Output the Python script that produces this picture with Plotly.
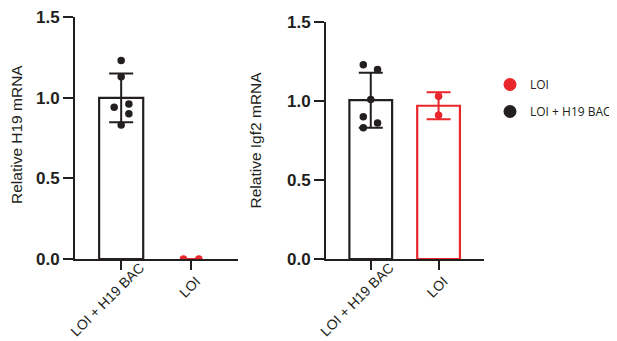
import numpy as np
import plotly.graph_objects as go

# ---------------- data ----------------
categories = ["LOI + H19 BAC", "LOI"]
h19_bac = [1.23, 1.13, 0.94, 0.96, 0.90, 0.83]
h19_loi = [0.0, 0.0]
igf2_bac = [1.23, 1.20, 1.01, 0.90, 0.83, 0.86]
igf2_loi = [1.03, 0.91]
ytick_vals = [0.0, 0.5, 1.0, 1.5]
ytick_text = ["0.0", "0.5", "1.0", "1.5"]
y_titles = ["Relative H19 mRNA", "Relative Igf2 mRNA"]
legend_names = ["LOI", "LOI + H19 BAC"]

# horizontal scatter of the dots (category units)
jit_h19_bac = [0, 0, -0.10, 0.11, 0.11, 0]
jit_h19_loi = [-0.11, 0.11]
jit_igf2_bac = [-0.11, 0.10, 0, -0.11, -0.11, 0.10]
jit_igf2_loi = [0, 0]

BLACK = "#231f20"
RED = "#e8262b"
BAR_W = 0.63

fig = go.Figure()


def add_group(vals, jit, xi, color, xa, ya, show_bar=True, cap=12):
    v = np.array(vals, dtype=float)
    mean = float(v.mean())
    sd = float(v.std(ddof=1)) if len(v) > 1 else 0.0
    fig.add_trace(go.Bar(
        x=[xi], y=[mean], width=BAR_W, xaxis=xa, yaxis=ya,
        marker=dict(color="white", line=dict(color=color, width=2.2 if show_bar else 0)),
        error_y=dict(type="data", array=[sd], visible=True, color=color, thickness=2, width=cap),
        showlegend=False, hoverinfo="skip"))
    fig.add_trace(go.Scatter(
        x=[xi + j for j in jit], y=list(v), mode="markers", xaxis=xa, yaxis=ya,
        marker=dict(color=color, size=7.5, line=dict(width=0)),
        showlegend=False, hoverinfo="skip"))


add_group(h19_bac, jit_h19_bac, 0, BLACK, "x", "y")
add_group(h19_loi, jit_h19_loi, 1, RED, "x", "y", show_bar=False, cap=8)
add_group(igf2_bac, jit_igf2_bac, 0, BLACK, "x2", "y2")
add_group(igf2_loi, jit_igf2_loi, 1, RED, "x2", "y2")

# legend-only dummy traces
for name, col, grp in zip(legend_names, [RED, BLACK], ["a", "b"]):
    fig.add_trace(go.Scatter(x=[None], y=[None], mode="markers", name=name,
                             legendgroup=grp, xaxis="x", yaxis="y",
                             marker=dict(color=col, size=13)))

W, H = 617, 341
tickfont_y = dict(family="Liberation Sans", size=17, color=BLACK, weight="bold")
tickfont_x = dict(family="Liberation Sans", size=14, color=BLACK)

# short label padded so its rotated position matches the original layout
xtick_text = [categories[0], categories[1] + "\u00a0" * 5]

xcommon = dict(range=[-0.66, 1.67], tickvals=[0, 1], ticktext=xtick_text, tickangle=-45,
               showline=True, linewidth=2, linecolor=BLACK, ticks="outside", ticklen=9,
               tickwidth=2, tickcolor=BLACK, showgrid=False, zeroline=False,
               tickfont=tickfont_x, fixedrange=True, automargin=False,
               ticklabelshift=19, ticklabelstandoff=-16, ticklabeloverflow="allow")
ycommon = dict(range=[0, 1.5], tickvals=ytick_vals, ticktext=ytick_text,
               showline=True, linewidth=2, linecolor=BLACK, ticks="outside", ticklen=10,
               tickwidth=2, tickcolor=BLACK, showgrid=False, zeroline=False,
               tickfont=tickfont_y, fixedrange=True, automargin=False,
               ticklabeloverflow="allow")

fig.update_layout(
    width=W, height=H, autosize=False,
    margin=dict(l=0, r=0, t=0, b=0, autoexpand=False),
    paper_bgcolor="white", plot_bgcolor="white",
    barmode="overlay",
    xaxis=dict(domain=[67 / W, 230 / W], anchor="y", **xcommon),
    yaxis=dict(domain=[90 / H, 332 / H], anchor="x", **ycommon),
    xaxis2=dict(domain=[318 / W, 476 / W], anchor="y2", **xcommon),
    yaxis2=dict(domain=[90 / H, 327 / H], anchor="x2", **ycommon),
    legend=dict(x=482 / W, y=1 - 62 / H, xanchor="left", yanchor="top",
                font=dict(family="Open Sans", size=12, color=BLACK),
                tracegroupgap=8, bgcolor="rgba(0,0,0,0)"),
    annotations=[
        dict(text=y_titles[0], x=8 / W, y=1 - 127 / H, xref="paper", yref="paper",
             textangle=-90, showarrow=False, xanchor="center", yanchor="middle",
             font=dict(family="Liberation Sans", size=15.5, color=BLACK)),
        dict(text=y_titles[1], x=247 / W, y=1 - 132.5 / H, xref="paper", yref="paper",
             textangle=-90, showarrow=False, xanchor="center", yanchor="middle",
             font=dict(family="Liberation Sans", size=15.5, color=BLACK)),
    ],
)

fig.write_html("out.html")
